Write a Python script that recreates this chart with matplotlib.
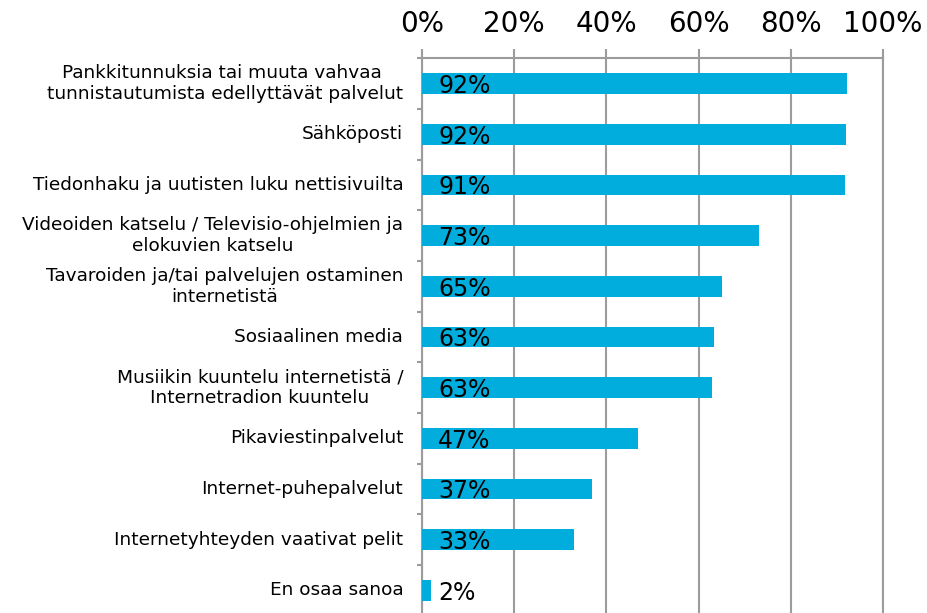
import matplotlib.pyplot as plt
from matplotlib.ticker import FixedLocator

# Data (share of respondents, %)
categories = [
    "Pankkitunnuksia tai muuta vahvaa \ntunnistautumista edellyttävät palvelut",
    "Sähköposti",
    "Tiedonhaku ja uutisten luku nettisivuilta",
    "Videoiden katselu / Televisio-ohjelmien ja\nelokuvien katselu",
    "Tavaroiden ja/tai palvelujen ostaminen\ninternetistä",
    "Sosiaalinen media",
    "Musiikin kuuntelu internetistä /\nInternetradion kuuntelu",
    "Pikaviestinpalvelut",
    "Internet-puhepalvelut",
    "Internetyhteyden vaativat pelit",
    "En osaa sanoa",
]
values = [92.1, 92.0, 91.7, 73.2, 65.1, 63.4, 62.8, 46.8, 36.9, 33.0, 1.9]
value_labels = ["92%", "92%", "91%", "73%", "65%", "63%", "63%", "47%", "37%", "33%", "2%"]
x_ticks = [0, 20, 40, 60, 80, 100]

bar_color = "#00ADDC"
grid_color = "#9C9C9C"

fig = plt.figure(figsize=(9.27, 6.13), dpi=100)
ax = fig.add_axes([422 / 927, -0.0042, 461 / 927, 0.909])

y = list(range(len(categories)))
ax.barh(y, values, height=0.41, color=bar_color, zorder=3)

for yi, lab in zip(y, value_labels):
    ax.text(3.5, yi, lab, va="center_baseline", ha="left", fontsize=17,
            color="black", zorder=4)

ax.set_xlim(0, 100)
ax.set_ylim(len(categories) - 0.5, -0.5)

# x axis on top
ax.xaxis.tick_top()
ax.set_xticks(x_ticks)
ax.set_xticklabels([f"{t}%" for t in x_ticks], fontsize=20)
ax.tick_params(axis="x", which="major", direction="out", length=6.5, width=1.5,
               color=grid_color, pad=8, top=True, bottom=False)
ax.xaxis.grid(True, color=grid_color, linewidth=1.5, zorder=0)

# category labels, separator ticks between categories
ax.set_yticks(y)
ax.set_yticklabels(categories, fontsize=13.3, linespacing=1.22,
                   ha="right", va="center", multialignment="center")
ax.yaxis.set_minor_locator(FixedLocator([i - 0.5 for i in range(len(categories) + 1)]))
ax.tick_params(axis="y", which="major", length=0, pad=13.5)
ax.tick_params(axis="y", which="minor", direction="out", length=3.6, width=1.5,
               color=grid_color)

for side in ["bottom", "right"]:
    ax.spines[side].set_visible(False)
for side in ["top", "left"]:
    ax.spines[side].set_color(grid_color)
    ax.spines[side].set_linewidth(1.5)

# right edge line at 100%
ax.axvline(100, color=grid_color, linewidth=1.5, clip_on=False, zorder=0)

fig.savefig("out.png", dpi=100)
